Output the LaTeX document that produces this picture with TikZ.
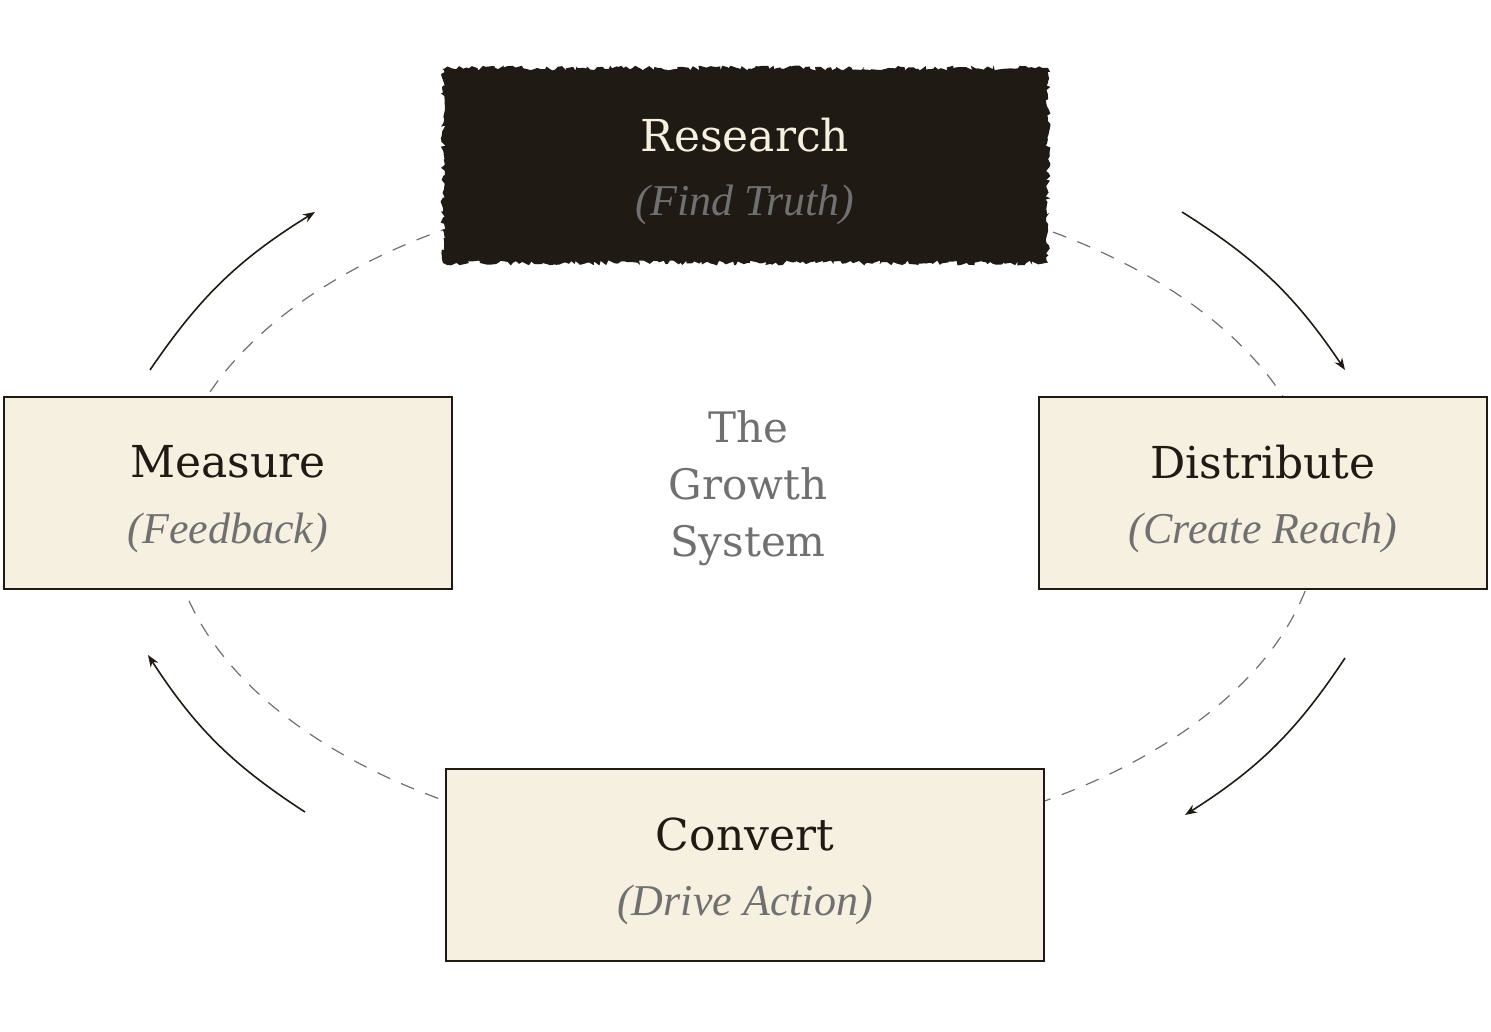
\documentclass[tikz,border=0pt]{standalone}
\usepackage{fontspec}
\setmainfont{DejaVu Serif}
\newfontfamily\itf{Liberation Serif}
\usetikzlibrary{decorations.pathmorphing,arrows.meta}
\definecolor{ink}{HTML}{201A14}
\definecolor{cream}{HTML}{F5F0DF}
\definecolor{gr}{HTML}{707070}
\begin{document}
\begin{tikzpicture}[x=1pt,y=-1pt,
 box/.style={draw=ink,line width=2pt,fill=cream},
 ttl/.style={font=\fontsize{44}{48}\selectfont,text=ink},
 sub/.style={font=\itf\itshape\fontsize{44}{48}\selectfont,text=gr},
 cyc/.style={-{Stealth[length=12pt,width=9pt]},line width=1.6pt,draw=ink}]
\useasboundingbox (0,0) rectangle (1491,1032);
\draw[gr,dashed,dash pattern=on 14pt off 12pt,line width=1.2pt] (745,515) ellipse [x radius=575,y radius=335];
\fill[ink,decorate,decoration={random steps,segment length=3pt,amplitude=2.5pt}] (443,68) rectangle (1048,263);
\node[ttl,text=cream] (r) at (745,135) {Research};
\node[sub] (rs) at (745,205) {(Find Truth)};
\draw[box] (4,397) rectangle (452,589);
\node[ttl] (m) at (228,462) {Measure};
\node[sub] (ms) at (228,533) {(Feedback)};
\draw[box] (1039,397) rectangle (1487,589);
\node[ttl] (d) at (1263,462) {Distribute};
\node[sub] (ds) at (1263,533) {(Create Reach)};
\draw[box] (446,769) rectangle (1044,961);
\node[ttl] (c) at (745,834) {Convert};
\node[sub] (cs) at (745,905) {(Drive Action)};
\node[font=\fontsize{42}{57}\selectfont,text=gr,align=center] (t) at (748,488) {The\\Growth\\System};
\coordinate (a1) at (1182,212); \coordinate (a2) at (1345,370);
\coordinate (b1) at (1345,658); \coordinate (b2) at (1185,815);
\coordinate (c1) at (305,812); \coordinate (c2) at (148,655);
\coordinate (d1) at (150,370); \coordinate (d2) at (315,212);
\draw[cyc] (a1) to[bend left=12] (a2);
\draw[cyc] (b1) to[bend left=12] (b2);
\draw[cyc] (c1) to[bend left=12] (c2);
\draw[cyc] (d1) to[bend left=12] (d2);
\end{tikzpicture}
\end{document}
